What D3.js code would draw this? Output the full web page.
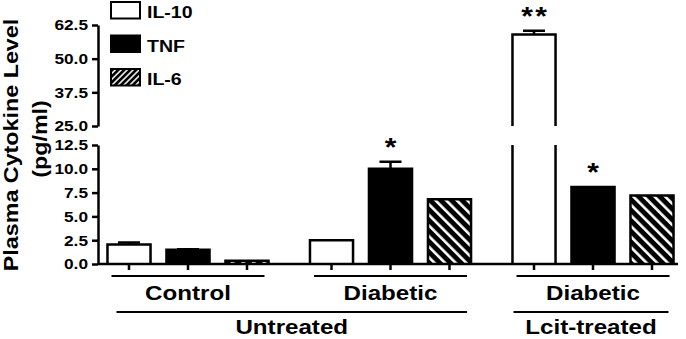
<!DOCTYPE html>
<html>
<head>
<meta charset="utf-8">
<script src="https://cdn.jsdelivr.net/npm/d3@7"></script>
<style>
body{margin:0;background:#fff}
text{font-family:"Liberation Sans",Arial,sans-serif;font-weight:bold;fill:#000}
</style>
</head>
<body>
<div id="chart"></div>
<script>
//values
var groupKeys = ["ctrl", "diab", "lcit"]
var groupLabels = ["Control", "Diabetic", "Diabetic"]
var treatLabels = ["Untreated", "Lcit-treated"]
var cytokines = ["IL-10", "TNF", "IL-6"]
var il10 = [2.05, 2.5, 59.0]
var il10Err = [0.2, 0, 1.4]
var tnf = [1.5, 10.0, 8.1]
var tnfErr = [0.05, 0.75, 0]
var il6 = [0.35, 6.8, 7.2]
var il6Err = [0, 0, 0]
var il10Sig = ["", "", "**"]
var tnfSig = ["", "*", "*"]
var il6Sig = ["", "", ""]
var lowTicks = [0, 2.5, 5, 7.5, 10, 12.5]
var highTicks = [25, 37.5, 50, 62.5]

var width = 686, height = 339
var SX = 1.15   //glyphs in the figure are wider than arial

var svg = d3.select("#chart").append("svg")
    .attr("width", width).attr("height", height)

//hatch patterns (bars use "\", legend swatch uses finer "/")
var defs = svg.append("defs")
function hatch(id, size, line, angle){
  var p = defs.append("pattern").attr("id", id)
      .attr("patternUnits", "userSpaceOnUse")
      .attr("width", size).attr("height", size)
      .attr("patternTransform", "rotate(" + angle + ")")
  p.append("rect").attr("width", size).attr("height", size).attr("fill", "#000")
  p.append("rect").attr("x", 0).attr("width", line).attr("height", size).attr("fill", "#fff")
}
hatch("hatchBar", 7.5, 2.6, -45)
hatch("hatchKey", 4.2, 1.5, 45)
var fills = {"IL-10": "#fff", "TNF": "#000", "IL-6": "url(#hatchBar)"}
var keyFills = {"IL-10": "#fff", "TNF": "#000", "IL-6": "url(#hatchKey)"}

//scales, y axis is broken between 12.5 and 25
var x0 = d3.scaleBand().domain(groupKeys).range([99.5, 681.5]).paddingInner(0.126)
var x1 = d3.scaleBand().domain(cytokines).range([0, x0.bandwidth()])
    .paddingInner(0.27).paddingOuter(0.135)
var yLow = d3.scaleLinear().domain([0, 12.5]).range([264, 145])
var yHigh = d3.scaleLinear().domain([25, 62.5]).range([126, 25])
function yOf(v){ return v <= 12.5 ? yLow(v) : yHigh(v) }

var rows = []
var vals = [il10, tnf, il6], errs = [il10Err, tnfErr, il6Err], sigs = [il10Sig, tnfSig, il6Sig]
groupKeys.forEach(function(g, i){
  cytokines.forEach(function(c, j){
    rows.push({g: g, c: c, v: vals[j][i], e: errs[j][i], s: sigs[j][i]})
  })
})

function label(x, y, str, size, anchor, sx, rot){
  return svg.append("text")
    .attr("transform", "translate(" + x + "," + y + ")" + (rot ? " rotate(-90)" : "") + " scale(" + sx + ",1)")
    .attr("text-anchor", anchor)
    .style("font-size", size + "px")
    .text(str)
}

//bars
var bars = svg.append("g")
rows.forEach(function(d){
  var bx = x0(d.g) + x1(d.c), bw = x1.bandwidth()
  var base = yLow(0)
  if(d.v <= 12.5){
    bars.append("rect").attr("x", bx).attr("y", yLow(d.v))
      .attr("width", bw).attr("height", base - yLow(d.v))
      .attr("fill", fills[d.c])
    bars.append("path")
      .attr("d", "M" + bx + "," + base + "V" + yLow(d.v) + "H" + (bx + bw) + "V" + base)
      .attr("fill", "none").attr("stroke", "#000").attr("stroke-width", 2.5)
  }
  else{
    //lower piece open at the top, upper piece open at the bottom
    bars.append("rect").attr("x", bx).attr("y", yLow(12.5))
      .attr("width", bw).attr("height", base - yLow(12.5)).attr("fill", fills[d.c])
    bars.append("rect").attr("x", bx).attr("y", yHigh(d.v))
      .attr("width", bw).attr("height", yHigh(25) - yHigh(d.v)).attr("fill", fills[d.c])
    bars.append("path")
      .attr("d", "M" + bx + "," + base + "V" + yLow(12.5) + "M" + (bx + bw) + "," + yLow(12.5) + "V" + base +
                 "M" + bx + "," + yHigh(25) + "V" + yHigh(d.v) + "H" + (bx + bw) + "V" + yHigh(25))
      .attr("fill", "none").attr("stroke", "#000").attr("stroke-width", 2.5)
  }
  var cx = bx + bw / 2
  if(d.e > 0){
    var top = yOf(d.v + d.e)
    bars.append("path")
      .attr("d", "M" + cx + "," + yOf(d.v) + "V" + top + "M" + (cx - 11) + "," + top + "H" + (cx + 11))
      .attr("stroke", "#000").attr("stroke-width", 2.5).attr("fill", "none")
  }
  //significance stars
  var n = d.s.length
  for(var k = 0; k < n; k++){
    label(cx + (k - (n - 1) / 2) * 14, yOf(d.v + d.e) - 6, "*", 26, "middle", SX)
  }
})

//x axis line and ticks under every bar
svg.append("line").attr("x1", 98).attr("x2", 678).attr("y1", yLow(0)).attr("y2", yLow(0))
  .attr("stroke", "#000").attr("stroke-width", 2.5)
svg.append("g").selectAll("line").data(rows).enter().append("line")
  .attr("x1", d => x0(d.g) + x1(d.c) + x1.bandwidth() / 2)
  .attr("x2", d => x0(d.g) + x1(d.c) + x1.bandwidth() / 2)
  .attr("y1", yLow(0)).attr("y2", yLow(0) + 6)
  .attr("stroke", "#000").attr("stroke-width", 2.5)

//broken y axis
function yAxis(scale, ticks){
  var g = svg.append("g").attr("transform", "translate(98,0)")
    .call(d3.axisLeft(scale).tickValues(ticks).tickFormat(d3.format(".1f"))
      .tickSizeOuter(0).tickSizeInner(6).tickPadding(4))
  g.select(".domain").attr("stroke-width", 2.5)
  g.selectAll(".tick line").attr("stroke-width", 2.5)
  g.selectAll(".tick text")
    .attr("x", -10 / SX).attr("transform", "scale(" + SX + ",1)")
    .style("font-size", "15px").style("font-family", null)
  g.attr("font-family", null)
}
yAxis(yLow, lowTicks)
yAxis(yHigh, highTicks)

//axis title
label(17.5, 145, "Plasma Cytokine Level", 21, "middle", 1.11, true)
label(47, 139, "(pg/ml)", 21, "middle", 1.11, true)

//legend
cytokines.forEach(function(c, i){
  svg.append("rect").attr("x", 111).attr("y", 2 + i * 33.5)
    .attr("width", 29).attr("height", 16.5)
    .attr("fill", keyFills[c]).attr("stroke", "#000").attr("stroke-width", 2)
  label(147, 18 + i * 33.5, c, 17, "start", SX)
})

//group lines and labels
groupKeys.forEach(function(g, i){
  var a = x0(g), b = x0(g) + x0.bandwidth()
  svg.append("line").attr("x1", a + 12).attr("x2", b - 12).attr("y1", 276).attr("y2", 276)
    .attr("stroke", "#000").attr("stroke-width", 2)
  label((a + b) / 2, 300, groupLabels[i], 21, "middle", SX)
})
var treatSpans = [[x0("ctrl") + 17, x0("diab") + x0.bandwidth() - 12], [x0("lcit") + 9, x0("lcit") + x0.bandwidth() - 13]]
treatLabels.forEach(function(t, i){
  var s = treatSpans[i]
  svg.append("line").attr("x1", s[0]).attr("x2", s[1]).attr("y1", 312).attr("y2", 312)
    .attr("stroke", "#000").attr("stroke-width", 2)
  label((s[0] + s[1]) / 2, 334, t, 21, "middle", SX)
})
</script>
</body>
</html>
